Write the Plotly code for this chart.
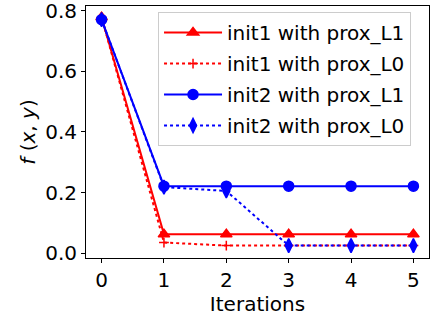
import plotly.graph_objects as go

iterations = [0, 1, 2, 3, 4, 5]
init1_l1 = [0.778, 0.062, 0.062, 0.062, 0.062, 0.062]
init1_l0 = [0.778, 0.035, 0.025, 0.025, 0.025, 0.025]
init2_l1 = [0.77, 0.221, 0.221, 0.221, 0.221, 0.221]
init2_l0 = [0.77, 0.218, 0.205, 0.025, 0.025, 0.025]

font = "DejaVu Sans"
fsize = 20

series = [
    ("init1 with prox_L1", init1_l1, "red", "solid", "triangle-up", 10),
    ("init1 with prox_L0", init1_l0, "red", "dot", "cross-thin", 7),
    ("init2 with prox_L1", init2_l1, "blue", "solid", "circle", 10),
    ("init2 with prox_L0", init2_l0, "blue", "dot", "diamond-tall", 10),
]

fig = go.Figure()
for i, (name, vals, color, dash, symbol, size) in enumerate(series):
    fig.add_trace(
        go.Scatter(
            x=iterations,
            y=vals,
            name=name,
            mode="lines+markers",
            line=dict(color=color, dash=dash, width=2),
            marker=dict(symbol=symbol, size=size, color=color,
                        line=dict(color=color, width=1.5)),
            legendgroup=str(i),
        )
    )

fig.update_xaxes(
    range=[-0.25, 5.25],
    tickvals=iterations,
    automargin=False,
    ticklabeloverflow="allow",
    showline=True, linecolor="black", linewidth=1, mirror=True,
    ticks="outside", ticklen=4, tickcolor="black",
    showgrid=False, zeroline=False,
    tickfont=dict(size=fsize, family=font, color="black"),
    title=dict(text="Iterations", font=dict(size=fsize, family=font, color="black"), standoff=2),
)
fig.update_yaxes(
    range=[-0.016, 0.815],
    tickvals=[0.0, 0.2, 0.4, 0.6, 0.8],
    tickformat=".1f",
    automargin=False,
    ticklabeloverflow="allow",
    showline=True, linecolor="black", linewidth=1, mirror=True,
    ticks="outside", ticklen=4, tickcolor="black",
    showgrid=False, zeroline=False,
    tickfont=dict(size=fsize, family=font, color="black"),
    title=dict(text="<i>f</i> (<i>x</i>, <i>y</i>)", font=dict(size=fsize, family=font, color="black"), standoff=4),
)
fig.update_layout(
    width=434,
    height=326,
    plot_bgcolor="white",
    paper_bgcolor="white",
    margin=dict(l=86, r=5, t=6, b=68),
    legend=dict(
        x=0.21, y=0.976, xanchor="left", yanchor="top",
        bgcolor="rgba(255,255,255,0.8)",
        bordercolor="#cccccc", borderwidth=1,
        font=dict(size=fsize, family=font, color="black"),
        traceorder="grouped", tracegroupgap=2,
        itemwidth=58,
    ),
)

fig.write_html(
    "out.html",
    config={"displayModeBar": False},
    post_script="document.body.style.margin='0';",
)
